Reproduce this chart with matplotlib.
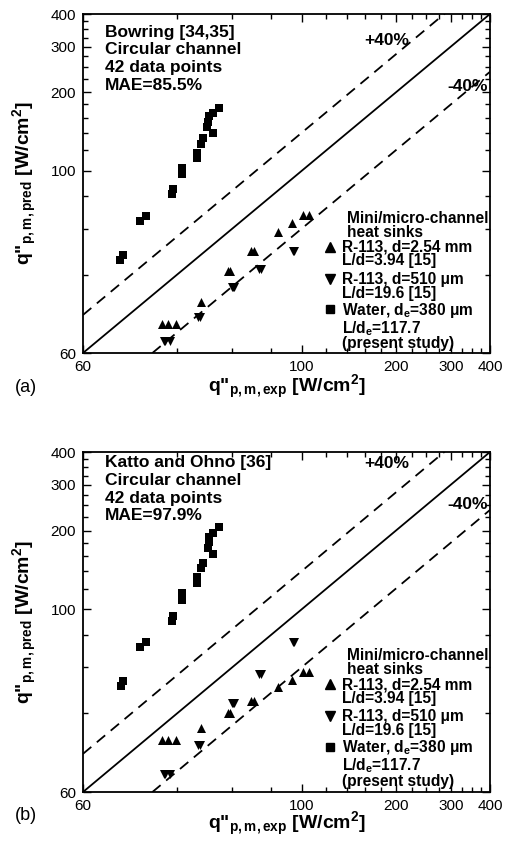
import matplotlib
matplotlib.use("Agg")
import matplotlib.pyplot as plt
from matplotlib.ticker import FixedLocator, FixedFormatter, NullFormatter

plt.rcParams['font.family'] = ['Liberation Sans', 'DejaVu Sans']
plt.rcParams['mathtext.fontset'] = 'custom'
plt.rcParams['mathtext.rm'] = 'Liberation Sans:bold'
plt.rcParams['mathtext.it'] = 'Liberation Sans:bold'
plt.rcParams['mathtext.bf'] = 'Liberation Sans:bold'

# axis ticks (the printed axis runs 20..400 but is labelled "60" at the origin)
major_ticks = [20, 100, 200, 300, 400]
major_labels = ['60', '100', '200', '300', '400']
minor_ticks = [40, 60, 80, 120, 140, 160, 180, 225, 250, 275, 325, 350, 375]

# panel (a) - Bowring
a_water_exp = [54.4, 52.1, 50.5, 50.2, 49.8, 52.1, 48.4, 47.7, 46.3, 46.3,
               41.5, 41.5, 38.8, 38.5, 31.8, 30.4, 26.8, 26.3]
a_water_pred = [174, 167, 162, 154, 147, 140, 134, 127, 117, 112,
                103, 97.3, 85.2, 81.5, 67.1, 64.2, 47.5, 45.5]
a_r113_254_exp = [35.8, 37.4, 39.7, 47.7, 58.2, 59.0, 68.9, 70.4, 84.0, 93.2, 101, 105.6]
a_r113_254_pred = [25.8, 25.8, 25.8, 31.4, 41.3, 41.3, 49.3, 49.3, 58.2, 63.1, 67.7, 67.7]
a_r113_510_exp = [36.3, 37.9, 46.6, 47.4, 59.8, 60.6, 73.2, 74.0, 94.5, 36.6, 93.8, 60.3]
a_r113_510_pred = [22.2, 22.2, 27.4, 27.6, 35.7, 35.9, 41.9, 42.1, 49.3, 22.3, 49.1, 35.8]

# panel (b) - Katto and Ohno
b_water_exp = [54.4, 52.1, 50.5, 50.5, 50.2, 52.1, 48.4, 47.7, 46.3, 46.3,
               41.5, 41.5, 38.8, 38.5, 31.8, 30.4, 26.8, 26.5]
b_water_pred = [207, 196, 189, 181, 172, 163, 150, 144, 133, 126,
                115, 109, 94.3, 90.2, 75.0, 71.8, 53.2, 50.9]
b_r113_254_exp = [35.8, 37.4, 39.7, 47.7, 58.2, 59.0, 68.9, 70.4, 84.0, 93.2, 101, 105.6]
b_r113_254_pred = [31.6, 31.6, 31.6, 35.2, 40.1, 40.1, 44.6, 44.6, 50.4, 53.7, 57.6, 57.6]
b_r113_510_exp = [36.3, 37.9, 46.6, 47.4, 59.8, 60.6, 73.2, 74.0, 94.5, 36.6, 93.8, 60.3]
b_r113_510_pred = [23.4, 23.4, 30.2, 30.4, 43.7, 43.9, 56.5, 56.7, 75.0, 23.5, 74.8, 43.8]

panels = [
    dict(letter='(a)', note='Bowring [34,35]\nCircular channel\n42 data points\nMAE=85.5%',
         water=(a_water_exp, a_water_pred), up=(a_r113_254_exp, a_r113_254_pred),
         down=(a_r113_510_exp, a_r113_510_pred),
         rect=[0.1627, 0.5842, 0.798, 0.3993], note_y=0.968, plus_y=0.923, minus_y=0.785,
         leg_top=0.3835, xpad=-1, letter_y=1 - 387 / 849),
    dict(letter='(b)', note='Katto and Ohno [36]\nCircular channel\n42 data points\nMAE=97.9%',
         water=(b_water_exp, b_water_pred), up=(b_r113_254_exp, b_r113_254_pred),
         down=(b_r113_510_exp, b_r113_510_pred),
         rect=[0.1627, 0.0671, 0.798, 0.4005], note_y=0.99, plus_y=0.965, minus_y=0.845,
         leg_top=0.388, xpad=-2, letter_y=1 - 815 / 849),
]

# (text, offset of baseline below legend top, marker)
legend_lines = [
    ('Mini/micro-channel', 0.0, None),
    ('heat sinks', -0.040, None),
    ('R-113, d=2.54 mm', -0.085, '^'),
    ('L/d=3.94 [15]', -0.125, None),
    ('R-113, d=510 μm', -0.180, 'v'),
    ('L/d=19.6 [15]', -0.221, None),
    ('Water, d$_{\\rm e}$=380 μm', -0.270, 's'),
    ('L/d$_{\\rm e}$=117.7', -0.325, None),
    ('(present study)', -0.370, None),
]

fig = plt.figure(figsize=(5.10, 8.49), dpi=100)
line = [20, 400]

for p in panels:
    ax = fig.add_axes(p['rect'])
    ax.set_xscale('log')
    ax.set_yscale('log')
    ax.set_xlim(20, 400)
    ax.set_ylim(20, 400)

    ax.plot(line, line, color='black', lw=1.3)
    ax.plot(line, [v * 1.4 for v in line], color='black', lw=1.3, dashes=(6, 4))
    ax.plot(line, [v * 0.6 for v in line], color='black', lw=1.3, dashes=(6, 4))

    ax.scatter(*p['water'], marker='s', s=34, color='black', linewidths=0, zorder=3)
    ax.scatter(*p['up'], marker='^', s=42, color='black', linewidths=0, zorder=3)
    ax.scatter(*p['down'], marker='v', s=42, color='black', linewidths=0, zorder=3)

    for axis in (ax.xaxis, ax.yaxis):
        axis.set_major_locator(FixedLocator(major_ticks))
        axis.set_major_formatter(FixedFormatter(major_labels))
        axis.set_minor_locator(FixedLocator(minor_ticks))
        axis.set_minor_formatter(NullFormatter())
    ax.tick_params(which='both', direction='in', top=True, right=True, labelsize=11, width=1)
    ax.tick_params(which='major', length=6, pad=5)
    ax.tick_params(which='minor', length=3.5)
    for s in ax.spines.values():
        s.set_linewidth(1.3)

    ax.set_xlabel('q"$_{\\rm p,m,exp}$ [W/cm$^{\\rm 2}$]', fontsize=14, fontweight='bold',
                  labelpad=p['xpad'])
    ax.set_ylabel('q"$_{\\rm p,m,pred}$ [W/cm$^{\\rm 2}$]', fontsize=14, fontweight='bold',
                  labelpad=8)

    ax.text(0.054, p['note_y'], p['note'], transform=ax.transAxes, fontsize=12.5,
            fontweight='bold', va='top', ha='left', linespacing=1.22)
    ax.text(0.69, p['plus_y'], '+40%', transform=ax.transAxes, fontsize=12.5,
            fontweight='bold', va='center', ha='left')
    ax.text(0.895, p['minus_y'], '-40%', transform=ax.transAxes, fontsize=12.5,
            fontweight='bold', va='center', ha='left')

    for text, dy, mk in legend_lines:
        y = p['leg_top'] + dy
        x = 0.649 if (mk is None and dy > -0.05) else 0.636
        ax.text(x, y, text, transform=ax.transAxes, fontsize=11.2,
                fontweight='bold', va='baseline', ha='left')
        if mk is not None:
            ax.plot([0.607], [y + 0.015], marker=mk, color='black',
                    ms=6.5 if mk != 's' else 5.5,
                    transform=ax.transAxes, clip_on=False, lw=0)

    fig.text(0.03, p['letter_y'], p['letter'], fontsize=13, va='center', ha='left')

fig.savefig('out.png', dpi=100)
